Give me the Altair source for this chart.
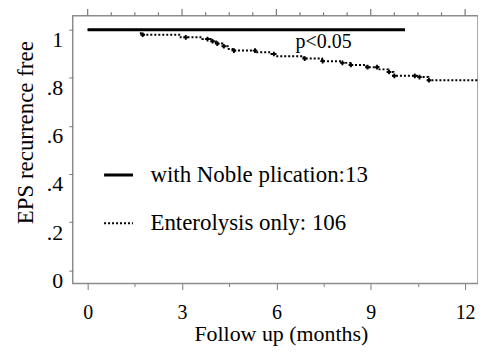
import altair as alt
import pandas as pd

FONT = "Liberation Serif"

groups = ["with Noble plication:13", "Enterolysis only: 106"]

noble_x = [0.0, 10.09]
noble_y = [1.0, 1.0]

km_x = [0.0, 1.69, 2.96, 3.65, 3.91, 4.07, 4.28, 4.45, 4.6, 5.34, 5.81, 5.97,
        6.87, 7.45, 8.08, 8.35, 8.87, 9.24, 9.56, 9.72, 10.51, 10.83, 12.41]
km_y = [1.0, 0.979, 0.968, 0.961, 0.952, 0.942, 0.931, 0.92, 0.913, 0.906, 0.899, 0.89,
        0.88, 0.869, 0.862, 0.853, 0.844, 0.835, 0.824, 0.808, 0.803, 0.79, 0.79]

cens_x = [1.75, 3.12, 3.81, 3.97, 4.12, 4.33, 4.65, 5.32, 5.92, 6.9, 7.47, 8.1,
          8.37, 8.9, 9.2, 9.58, 9.75, 10.4, 10.55, 10.85]

x_ticks = [0, 0.75, 1.5, 2.25, 3, 3.75, 4.5, 5.25, 6, 6.75, 7.5, 8.25, 9,
           9.75, 10.5, 11.25, 12]
y_ticks = [0, 0.1, 0.2, 0.3, 0.4, 0.5, 0.6, 0.7, 0.8, 0.9, 1.0]

p_text = ["p<0.05"]
p_x = [7.5]
p_y = [0.923]

Y_TOP = 1.058


def step_value(x):
    v = km_y[0]
    for kx, ky in zip(km_x, km_y):
        if kx <= x:
            v = ky
    return v


lines = pd.DataFrame({
    "x": noble_x + km_x,
    "y": noble_y + km_y,
    "group": [groups[0]] * len(noble_x) + [groups[1]] * len(km_x),
})
cens = pd.DataFrame({"x": cens_x, "y": [step_value(c) for c in cens_x]})
ptxt = pd.DataFrame({"x": p_x, "y": p_y, "t": p_text})
topticks = pd.DataFrame({"x": x_ticks})

xs = alt.Scale(domain=[-0.475, 12.41], nice=False, zero=False)
ys = alt.Scale(domain=[-0.055, Y_TOP], nice=False, zero=False)

TICK = "#7a7a7a"

x_axis = alt.Axis(
    values=x_ticks, labelExpr="datum.value % 3 == 0 ? format(datum.value, 'd') : ''",
    tickSize={"condition": {"test": "datum.value % 3 == 0", "value": 6}, "value": 3},
    tickColor=TICK, domain=False, grid=False,
    labelFont=FONT, labelFontSize=20, labelColor="black", labelPadding=13,
    title="Follow up (months)", titleFont=FONT, titleFontSize=22,
    titleFontWeight="normal", titleColor="black",
    titleX=209, titleY=57, titleBaseline="alphabetic", titleAlign="center",
)
y_axis = alt.Axis(
    values=y_ticks,
    labelExpr="abs(datum.value*5 - round(datum.value*5)) < 0.01 ? (datum.value == 1 ? '1' : (datum.value == 0 ? '0' : replace(format(datum.value, '.1f'), '0.', '.'))) : ''",
    tickSize={"condition": {"test": "abs(datum.value*5 - round(datum.value*5)) < 0.01", "value": 4}, "value": 3},
    tickColor=TICK, domain=False, grid=False,
    labelFont=FONT, labelFontSize=22, labelColor="black", labelPadding=6,
    labelOffset=10,
    title="EPS recurrence free", titleFont=FONT, titleFontSize=23,
    titleFontWeight="normal", titleColor="black",
    titleX=-40, titleY=117, titleAngle=270, titleBaseline="alphabetic",
    titleAlign="center",
)

leg = alt.Legend(
    title=None, orient="none", legendX=30, legendY=144,
    symbolType="stroke", symbolSize=841, labelFont=FONT, labelFontSize=23,
    labelColor="black", labelOffset=16, rowPadding=21, padding=0, labelLimit=400,
)

line_layer = alt.Chart(lines).mark_line(interpolate="step-after", clip=True).encode(
    x=alt.X("x:Q", scale=xs, axis=x_axis),
    y=alt.Y("y:Q", scale=ys, axis=y_axis),
    color=alt.Color("group:N", scale=alt.Scale(domain=groups, range=["black", "black"]), legend=leg),
    strokeDash=alt.StrokeDash("group:N", scale=alt.Scale(domain=groups, range=[[1, 0], [2, 2]]), legend=leg),
    strokeWidth=alt.StrokeWidth("group:N", scale=alt.Scale(domain=groups, range=[3, 2]), legend=leg),
    detail="group:N",
)

cens_layer = alt.Chart(cens).mark_point(shape="cross", filled=True, color="black", size=22, opacity=1).encode(
    x=alt.X("x:Q", scale=xs),
    y=alt.Y("y:Q", scale=ys),
)

# top frame ticks (outward), positioned through the shared scales
top_major = alt.Chart(topticks).transform_filter("datum.x % 3 == 0").mark_rule(
    color=TICK, strokeWidth=1.2, clip=False).encode(
    x=alt.X("x:Q", scale=xs),
    y=alt.datum(Y_TOP),
    y2=alt.datum(Y_TOP + 0.028),
)
top_minor = alt.Chart(topticks).transform_filter("datum.x % 3 != 0").mark_rule(
    color=TICK, strokeWidth=1.2, clip=False).encode(
    x=alt.X("x:Q", scale=xs),
    y=alt.datum(Y_TOP),
    y2=alt.datum(Y_TOP + 0.014),
)

p_layer = alt.Chart(ptxt).mark_text(font=FONT, fontSize=20, align="center", baseline="alphabetic", color="black").encode(
    x=alt.X("x:Q", scale=xs),
    y=alt.Y("y:Q", scale=ys),
    text="t:N",
)

chart = alt.layer(line_layer, cens_layer, top_major, top_minor, p_layer).properties(
    width=407, height=269,
    autosize=alt.AutoSizeParams(type="none"),
    padding={"left": 65, "top": 7, "right": 0, "bottom": 70},
    background="white",
).configure_view(stroke="#8c8c8c", strokeWidth=1.5)

chart.save("out.html", embed_options={"renderer": "svg", "actions": False})
